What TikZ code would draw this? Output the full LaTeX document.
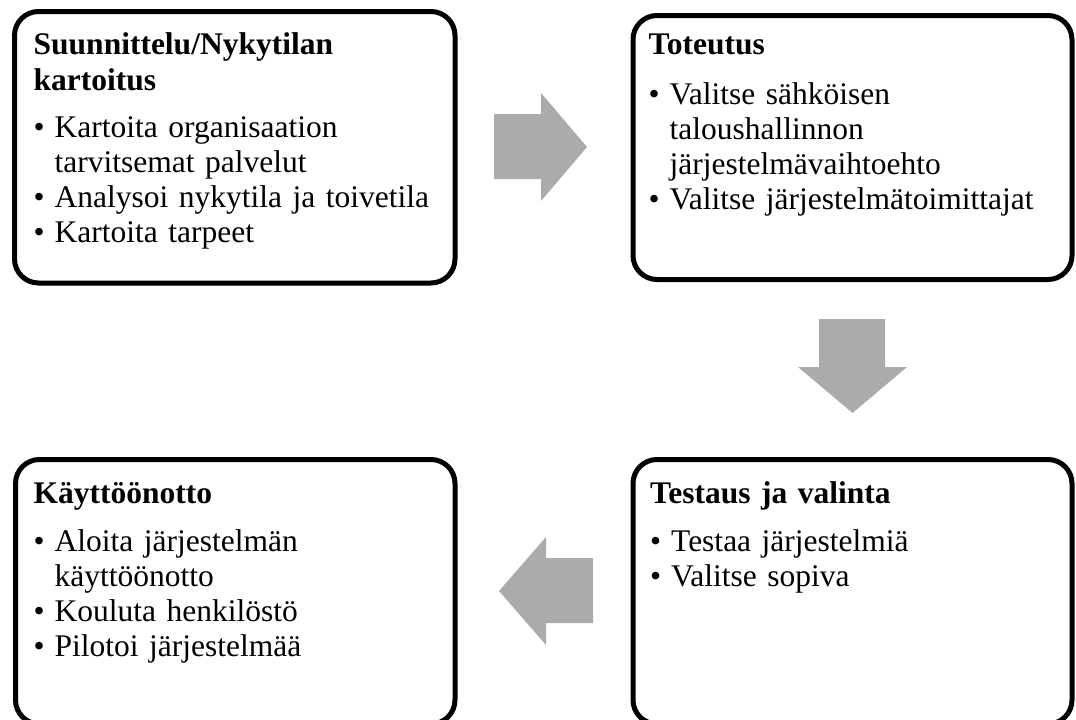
\documentclass[tikz,border=0pt]{standalone}
\usepackage{fontspec}
\setmainfont{Liberation Serif}
\usetikzlibrary{calc}
\definecolor{arrowgray}{RGB}{171,171,171}

% line break that keeps the paragraph (and its hanging indent) going
\newcommand{\nl}{\hfil\break}
% one bulleted entry with a hanging indent
\newlength{\bulind}
\setlength{\bulind}{21pt}
\newcommand{\bul}[1]{\par\hangindent=\bulind\hangafter=1\noindent\makebox[\bulind][l]{\textbullet}#1}
% bold heading of a stage, followed by a gap before the list
\newcommand{\stagehead}[2]{\noindent{\fontsize{31.5}{36}\selectfont\bfseries #1\par}\vspace{#2}}

\tikzset{
  stagebox/.style={draw=black, line width=5pt, rounded corners=24pt,
    minimum width=#1, inner sep=0pt},
  stagetext/.style={anchor=base west, text width=430pt, align=left,
    inner sep=0pt, font=\fontsize{31.5}{35}\selectfont},
  flowarrow/.style={fill=arrowgray, draw=none}
}

\begin{document}
\begin{tikzpicture}[x=1pt, y=-1pt]
  \useasboundingbox (0,0) rectangle (1076,720);
  \clip (0,0) rectangle (1076,720);

  % the four stages
  \node[stagebox=440.5pt, minimum height=271.5pt] (plan) at (234.75,147.25) {};
  \node[stagebox=439pt,   minimum height=264pt]   (impl) at (852.5,147.5) {};
  \node[stagebox=439pt,   minimum height=264.5pt] (test) at (852.5,591.75) {};
  \node[stagebox=439.5pt, minimum height=264.5pt] (use)  at (235.25,591.75) {};

  \node[stagetext] (plantext) at ($(plan.north west)+(21.5,45)$) {%
    \stagehead{Suunnittelu/Nykytilan\nl kartoitus}{12pt}%
    \bul{Kartoita organisaation\nl tarvitsemat palvelut}%
    \bul{Analysoi nykytila ja toivetila}%
    \bul{Kartoita tarpeet}\par};

  \node[stagetext] (impltext) at ($(impl.north west)+(18,41)$) {%
    \stagehead{Toteutus}{15pt}%
    \bul{Valitse sähköisen\nl taloushallinnon\nl järjestelmävaihtoehto}%
    \bul{Valitse järjestelmätoimittajat}\par};

  \node[stagetext] (testtext) at ($(test.north west)+(19.5,46)$) {%
    \stagehead{Testaus ja valinta}{13.5pt}%
    \bul{Testaa järjestelmiä}%
    \bul{Valitse sopiva}\par};

  \node[stagetext] (usetext) at ($(use.north west)+(20.5,46)$) {%
    \stagehead{Käyttöönotto}{13.5pt}%
    \bul{Aloita järjestelmän\nl käyttöönotto}%
    \bul{Kouluta henkilöstö}%
    \bul{Pilotoi järjestelmää}\par};

  % block arrows between the stages
  \fill[flowarrow] (494,114) -- (541,114) -- (541,93) -- (587,147)
    -- (541,201) -- (541,179) -- (494,179) -- cycle;
  \fill[flowarrow] (819,319) -- (885,319) -- (885,367) -- (907,367)
    -- (852.5,413) -- (798,367) -- (819,367) -- cycle;
  \fill[flowarrow] (593,558) -- (593,623) -- (546,623) -- (546,645)
    -- (499,591) -- (546,537) -- (546,558) -- cycle;
\end{tikzpicture}
\end{document}
